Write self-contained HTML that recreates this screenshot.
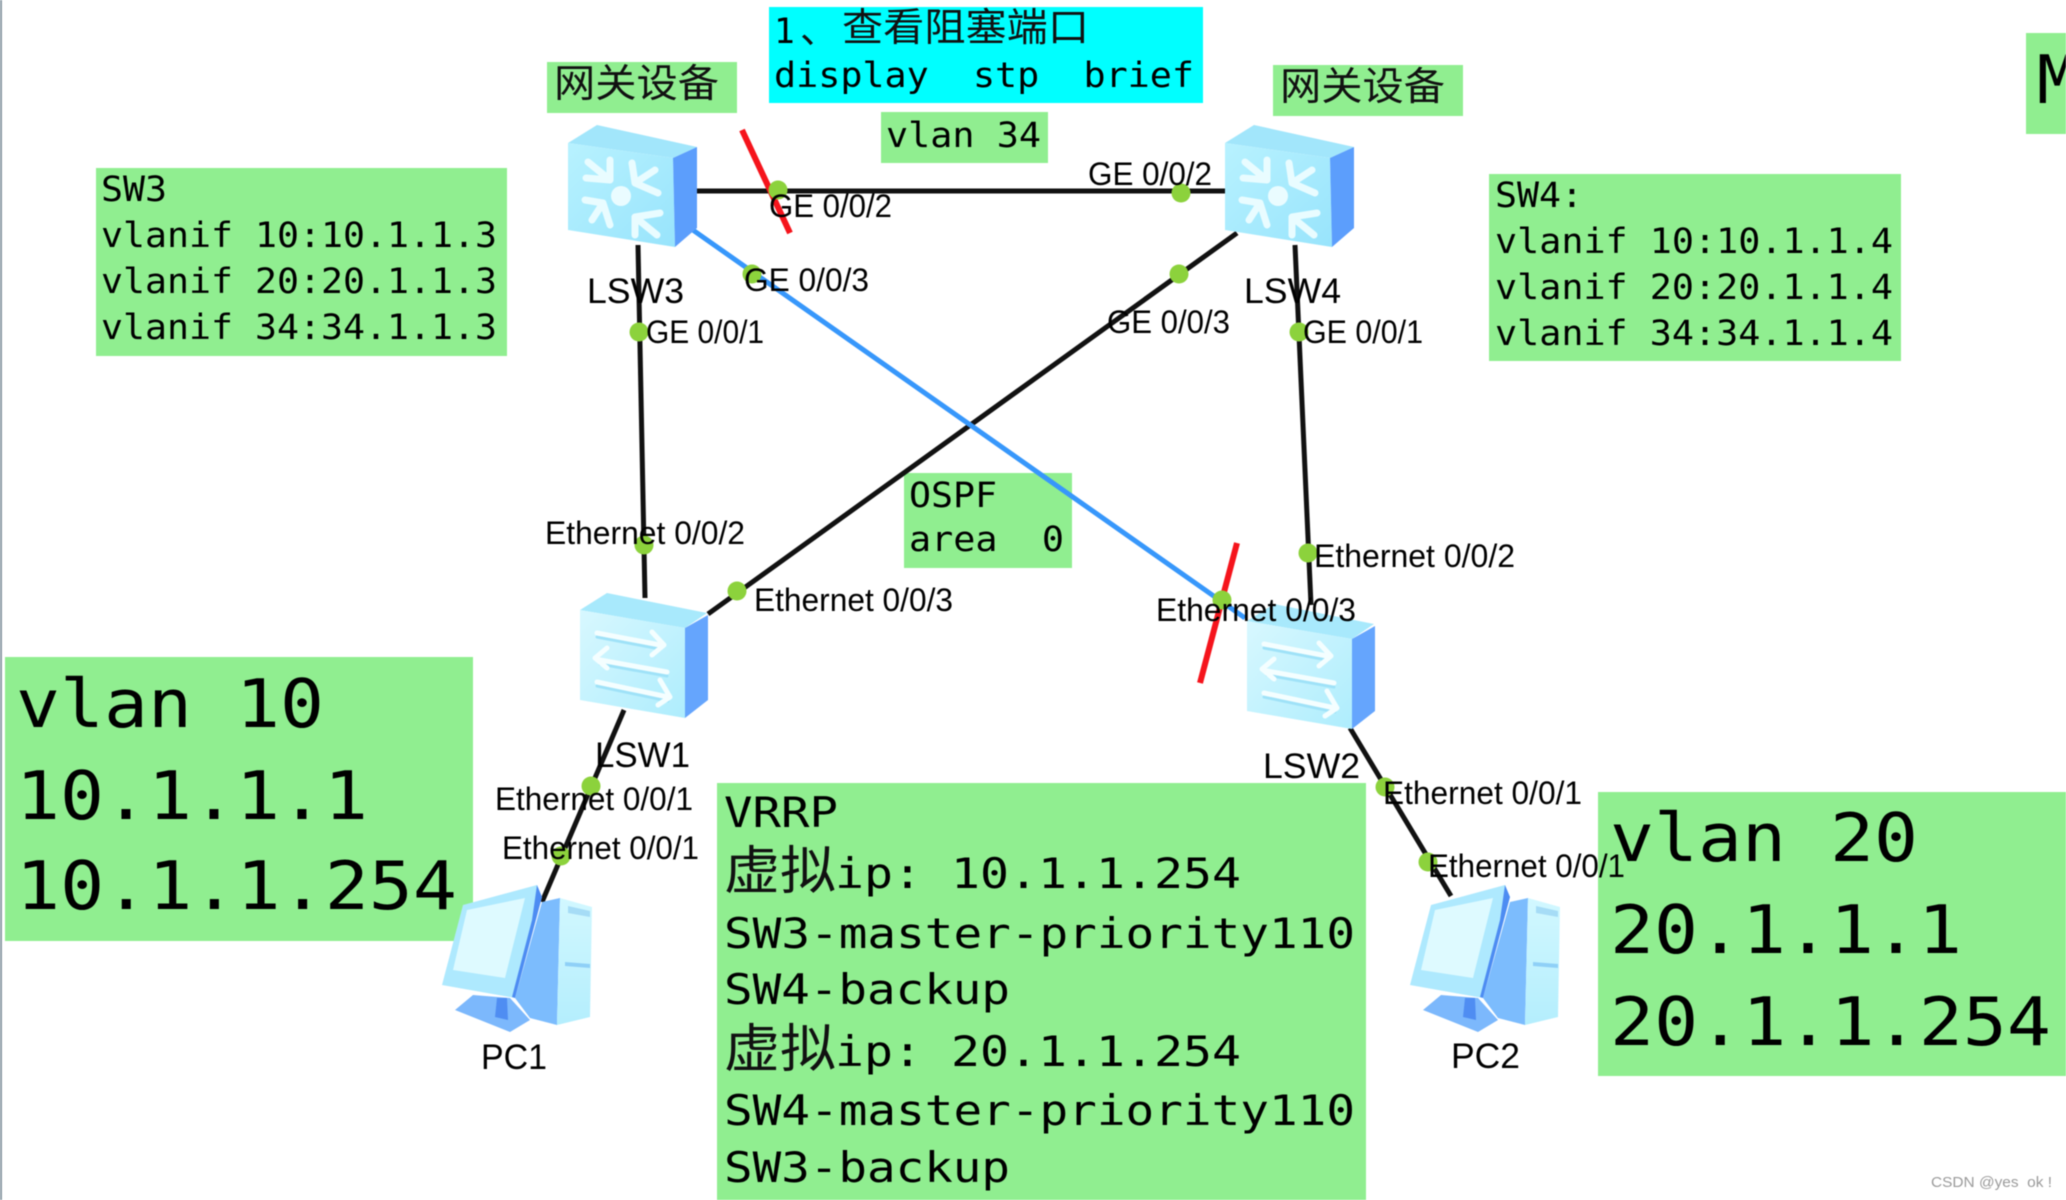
<!DOCTYPE html>
<html><head><meta charset="utf-8"><title>STP VRRP topology</title>
<style>
html,body{margin:0;padding:0;background:#fff;width:2066px;height:1200px;overflow:hidden}
svg{display:block;filter:blur(.55px)}
.m{font-family:"DejaVu Sans Mono","Liberation Mono",monospace;fill:#000}
.c{font-family:"Liberation Sans","Noto Sans CJK SC",sans-serif;fill:#111}
.l{font-family:"Liberation Sans",sans-serif;fill:#000;font-size:32px}
.n{font-family:"Liberation Sans",sans-serif;fill:#000;font-size:35px}
.s{font-size:34.5px}.v{font-size:42px}.b{font-size:67px}
</style></head><body>
<svg width="2066" height="1200" viewBox="0 0 2066 1200" xmlns="http://www.w3.org/2000/svg">
<defs>
<linearGradient id="f3" x1="0" y1="0" x2="1" y2="1"><stop offset="0" stop-color="#b8f2ff"/><stop offset="1" stop-color="#98e4fc"/></linearGradient>
<linearGradient id="f2" x1="0" y1="0" x2="1" y2="1"><stop offset="0" stop-color="#d8f8ff"/><stop offset="1" stop-color="#aeedfd"/></linearGradient>
<linearGradient id="t" x1="0" y1="0" x2="0" y2="1"><stop offset="0" stop-color="#d2f8ff"/><stop offset="1" stop-color="#b4eefd"/></linearGradient>
<g id="l3">
<polygon points="568,143 597,125 697,147 673,158" fill="#a2e6fb"/>
<polygon points="568,143 673,158 675,247 568,230" fill="url(#f3)"/>
<polygon points="673,158 697,147 697,228 675,247" fill="#5c9efc"/>
<g fill="none" stroke="#e9fcff" stroke-width="7" stroke-linecap="round" stroke-linejoin="round">
<path d="M588 162L610 180M586 178L610 180L610 160"/>
<path d="M655 170L635 183M632 163L635 183L658 193"/>
<path d="M592 220L603 203M585 200L603 203L610 225"/>
<path d="M657 235L635 217M660 213L635 217L635 235"/>
</g>
<circle cx="621" cy="196" r="10" fill="#eafcff"/>
</g>
<g id="l2">
<polygon points="580,610 607,593 707,613 685,628" fill="#a8e9fc"/>
<polygon points="580,610 685,628 685,718 580,700" fill="url(#f2)"/>
<polygon points="685,628 708,615 708,700 685,718" fill="#65a5fd"/>
<g fill="none" stroke="#9fe2f8" stroke-width="3" stroke-linecap="round" transform="translate(0,4)">
<path d="M597 633L660 645M667 672L600 660M597 682L668 697"/>
</g>
<g fill="none" stroke="#f4feff" stroke-width="5" stroke-linecap="round" stroke-linejoin="round">
<path d="M597 633L660 645M652 632L664 645L652 655"/>
<path d="M667 672L600 660M607 648L595 658L607 668"/>
<path d="M597 682L668 697M660 680L670 697L658 705"/>
</g>
</g>
<g id="pc">
<polygon points="455,1010 473,995 510,998 530,1020 510,1032" fill="#7cb8fc"/>
<polygon points="497,998 507,998 508,1020 495,1017" fill="#4f8df2"/>
<polygon points="515,998 542,902 560,898 557,1025 530,1018" fill="#7cbcfd"/>
<polygon points="560,898 592,907 590,1017 557,1025" fill="url(#t)"/>
<polygon points="568,906 590,911 590,917 568,913" fill="#a6dcf6"/>
<polygon points="565,962 590,964 590,968 565,966" fill="#8fd0f7"/>
<polygon points="442,985 463,905 537,885 542,897 515,998" fill="#aee9fe"/>
<polygon points="453,970 467,910 525,898 505,978" fill="#defaff"/>
<polygon points="537,885 542,897 515,998 512,997 532,920" fill="#4d8cf2"/>
</g>
</defs>

<rect x="0" y="0" width="2" height="1200" fill="#8c9ba6"/>

<!-- boxes -->
<g fill="#90ee90">
<rect x="96" y="168" width="411" height="188"/>
<rect x="1489" y="174" width="412" height="187"/>
<rect x="547" y="62" width="190" height="51"/>
<rect x="1273" y="65" width="190" height="51"/>
<rect x="881" y="112" width="167" height="51"/>
<rect x="904" y="473" width="168" height="95"/>
<rect x="5" y="657" width="468" height="284"/>
<rect x="717" y="783" width="649" height="417"/>
<rect x="1598" y="792" width="468" height="284"/>
<rect x="2026" y="33" width="40" height="101"/>
</g>
<rect x="769" y="7" width="434" height="96" fill="#00ffff"/>

<!-- links -->
<g stroke="#111" stroke-width="5" fill="none">
<line x1="695" y1="191" x2="1226" y2="191"/>
<line x1="638" y1="245" x2="645" y2="598"/>
<line x1="1295" y1="245" x2="1311" y2="605"/>
<line x1="1237" y1="233" x2="708" y2="614"/>
<line x1="624" y1="710" x2="542" y2="902"/>
<line x1="1350" y1="728" x2="1451" y2="896"/>
</g>
<line x1="690" y1="228" x2="1245" y2="618" stroke="#3797fb" stroke-width="5"/>

<!-- box text -->
<g class="m s">
<text x="101" y="201" textLength="66" lengthAdjust="spacingAndGlyphs">SW3</text>
<text x="101" y="247" textLength="396" lengthAdjust="spacingAndGlyphs">vlanif 10:10.1.1.3</text>
<text x="101" y="293" textLength="396" lengthAdjust="spacingAndGlyphs">vlanif 20:20.1.1.3</text>
<text x="101" y="339" textLength="396" lengthAdjust="spacingAndGlyphs">vlanif 34:34.1.1.3</text>
<text x="1495" y="207" textLength="88" lengthAdjust="spacingAndGlyphs">SW4:</text>
<text x="1495" y="253" textLength="398" lengthAdjust="spacingAndGlyphs">vlanif 10:10.1.1.4</text>
<text x="1495" y="299" textLength="398" lengthAdjust="spacingAndGlyphs">vlanif 20:20.1.1.4</text>
<text x="1495" y="345" textLength="398" lengthAdjust="spacingAndGlyphs">vlanif 34:34.1.1.4</text>
<text x="886" y="147" textLength="155" lengthAdjust="spacingAndGlyphs">vlan 34</text>
<text x="774" y="87" textLength="420" lengthAdjust="spacingAndGlyphs">display&#160;&#160;stp&#160;&#160;brief</text>
<text x="909" y="507" textLength="88" lengthAdjust="spacingAndGlyphs">OSPF</text>
<text x="909" y="551" textLength="155" lengthAdjust="spacingAndGlyphs">area&#160;&#160;0</text>
<text x="774" y="43">1</text>
</g>
<g class="c">
<text x="800" y="43" font-size="38">、</text>
<text x="842" y="41" textLength="247" lengthAdjust="spacingAndGlyphs" font-size="39">查看阻塞端口</text>
<text x="554" y="97" textLength="165" lengthAdjust="spacingAndGlyphs" font-size="39">网关设备</text>
<text x="1280" y="100" textLength="165" lengthAdjust="spacingAndGlyphs" font-size="39">网关设备</text>
</g>
<g class="m b">
<text x="16" y="727" textLength="308" lengthAdjust="spacingAndGlyphs">vlan 10</text>
<text x="16" y="819" textLength="352" lengthAdjust="spacingAndGlyphs">10.1.1.1</text>
<text x="16" y="909" textLength="441" lengthAdjust="spacingAndGlyphs">10.1.1.254</text>
<text x="1610" y="861" textLength="308" lengthAdjust="spacingAndGlyphs">vlan 20</text>
<text x="1610" y="953" textLength="352" lengthAdjust="spacingAndGlyphs">20.1.1.1</text>
<text x="1610" y="1045" textLength="441" lengthAdjust="spacingAndGlyphs">20.1.1.254</text>
<text x="2037" y="103">M</text>
</g>
<g class="m v">
<text x="724" y="827" textLength="114" lengthAdjust="spacingAndGlyphs">VRRP</text>
<text x="835" y="888" textLength="406" lengthAdjust="spacingAndGlyphs">ip: 10.1.1.254</text>
<text x="724" y="948" textLength="631" lengthAdjust="spacingAndGlyphs">SW3-master-priority110</text>
<text x="724" y="1004" textLength="286" lengthAdjust="spacingAndGlyphs">SW4-backup</text>
<text x="835" y="1066" textLength="406" lengthAdjust="spacingAndGlyphs">ip: 20.1.1.254</text>
<text x="724" y="1125" textLength="631" lengthAdjust="spacingAndGlyphs">SW4-master-priority110</text>
<text x="724" y="1182" textLength="286" lengthAdjust="spacingAndGlyphs">SW3-backup</text>
</g>
<g class="c" font-size="52">
<text x="724" y="889" textLength="112" lengthAdjust="spacingAndGlyphs">虚拟</text>
<text x="724" y="1067" textLength="112" lengthAdjust="spacingAndGlyphs">虚拟</text>
</g>

<!-- devices -->
<use href="#l3"/>
<use href="#l3" x="657"/>
<use href="#l2"/>
<use href="#l2" x="667" y="11"/>
<use href="#pc"/>
<use href="#pc" x="968"/>

<!-- red marks -->
<g stroke="#f5141c" stroke-width="6" fill="none">
<line x1="742" y1="130" x2="790" y2="233"/>
<line x1="1237" y1="543" x2="1200" y2="683"/>
</g>

<!-- port dots -->
<g fill="#8cd23c">
<circle cx="778" cy="190" r="9.5"/><circle cx="1181" cy="193" r="9.5"/>
<circle cx="752" cy="274" r="9.5"/><circle cx="1179" cy="274" r="9.5"/>
<circle cx="639" cy="332" r="9.5"/><circle cx="1299" cy="332" r="9.5"/>
<circle cx="644" cy="545" r="9.5"/><circle cx="737" cy="591" r="9.5"/>
<circle cx="1308" cy="553" r="9.5"/><circle cx="1222" cy="600" r="9.5"/>
<circle cx="591" cy="786" r="9.5"/><circle cx="561" cy="856" r="9.5"/>
<circle cx="1385" cy="787" r="9.5"/><circle cx="1428" cy="862" r="9.5"/>
</g>

<!-- labels -->
<g class="l">
<text x="769" y="217" textLength="123" lengthAdjust="spacingAndGlyphs">GE 0/0/2</text>
<text x="1088" y="185" textLength="124" lengthAdjust="spacingAndGlyphs">GE 0/0/2</text>
<text x="744" y="291" textLength="125" lengthAdjust="spacingAndGlyphs">GE 0/0/3</text>
<text x="1107" y="333" textLength="123" lengthAdjust="spacingAndGlyphs">GE 0/0/3</text>
<text x="646" y="343" textLength="118" lengthAdjust="spacingAndGlyphs">GE 0/0/1</text>
<text x="1303" y="343" textLength="120" lengthAdjust="spacingAndGlyphs">GE 0/0/1</text>
<text x="545" y="544" textLength="200" lengthAdjust="spacingAndGlyphs">Ethernet 0/0/2</text>
<text x="754" y="611" textLength="199" lengthAdjust="spacingAndGlyphs">Ethernet 0/0/3</text>
<text x="1314" y="567" textLength="201" lengthAdjust="spacingAndGlyphs">Ethernet 0/0/2</text>
<text x="1156" y="621" textLength="200" lengthAdjust="spacingAndGlyphs">Ethernet 0/0/3</text>
<text x="495" y="810" textLength="198" lengthAdjust="spacingAndGlyphs">Ethernet 0/0/1</text>
<text x="502" y="859" textLength="197" lengthAdjust="spacingAndGlyphs">Ethernet 0/0/1</text>
<text x="1383" y="804" textLength="199" lengthAdjust="spacingAndGlyphs">Ethernet 0/0/1</text>
<text x="1428" y="877" textLength="197" lengthAdjust="spacingAndGlyphs">Ethernet 0/0/1</text>
</g>
<g class="n">
<text x="587" y="303" textLength="97" lengthAdjust="spacingAndGlyphs">LSW3</text>
<text x="1244" y="303" textLength="97" lengthAdjust="spacingAndGlyphs">LSW4</text>
<text x="595" y="767" textLength="95" lengthAdjust="spacingAndGlyphs">LSW1</text>
<text x="1263" y="778" textLength="97" lengthAdjust="spacingAndGlyphs">LSW2</text>
<text x="481" y="1069" textLength="66" lengthAdjust="spacingAndGlyphs">PC1</text>
<text x="1451" y="1068" textLength="69" lengthAdjust="spacingAndGlyphs">PC2</text>
</g>
<text x="1931" y="1187" font-family="Liberation Sans,Noto Sans CJK SC,sans-serif" font-size="15" fill="#9a9a9a" textLength="121" lengthAdjust="spacingAndGlyphs">CSDN @yes&#160;&#160;ok !</text>
</svg>
</body></html>
